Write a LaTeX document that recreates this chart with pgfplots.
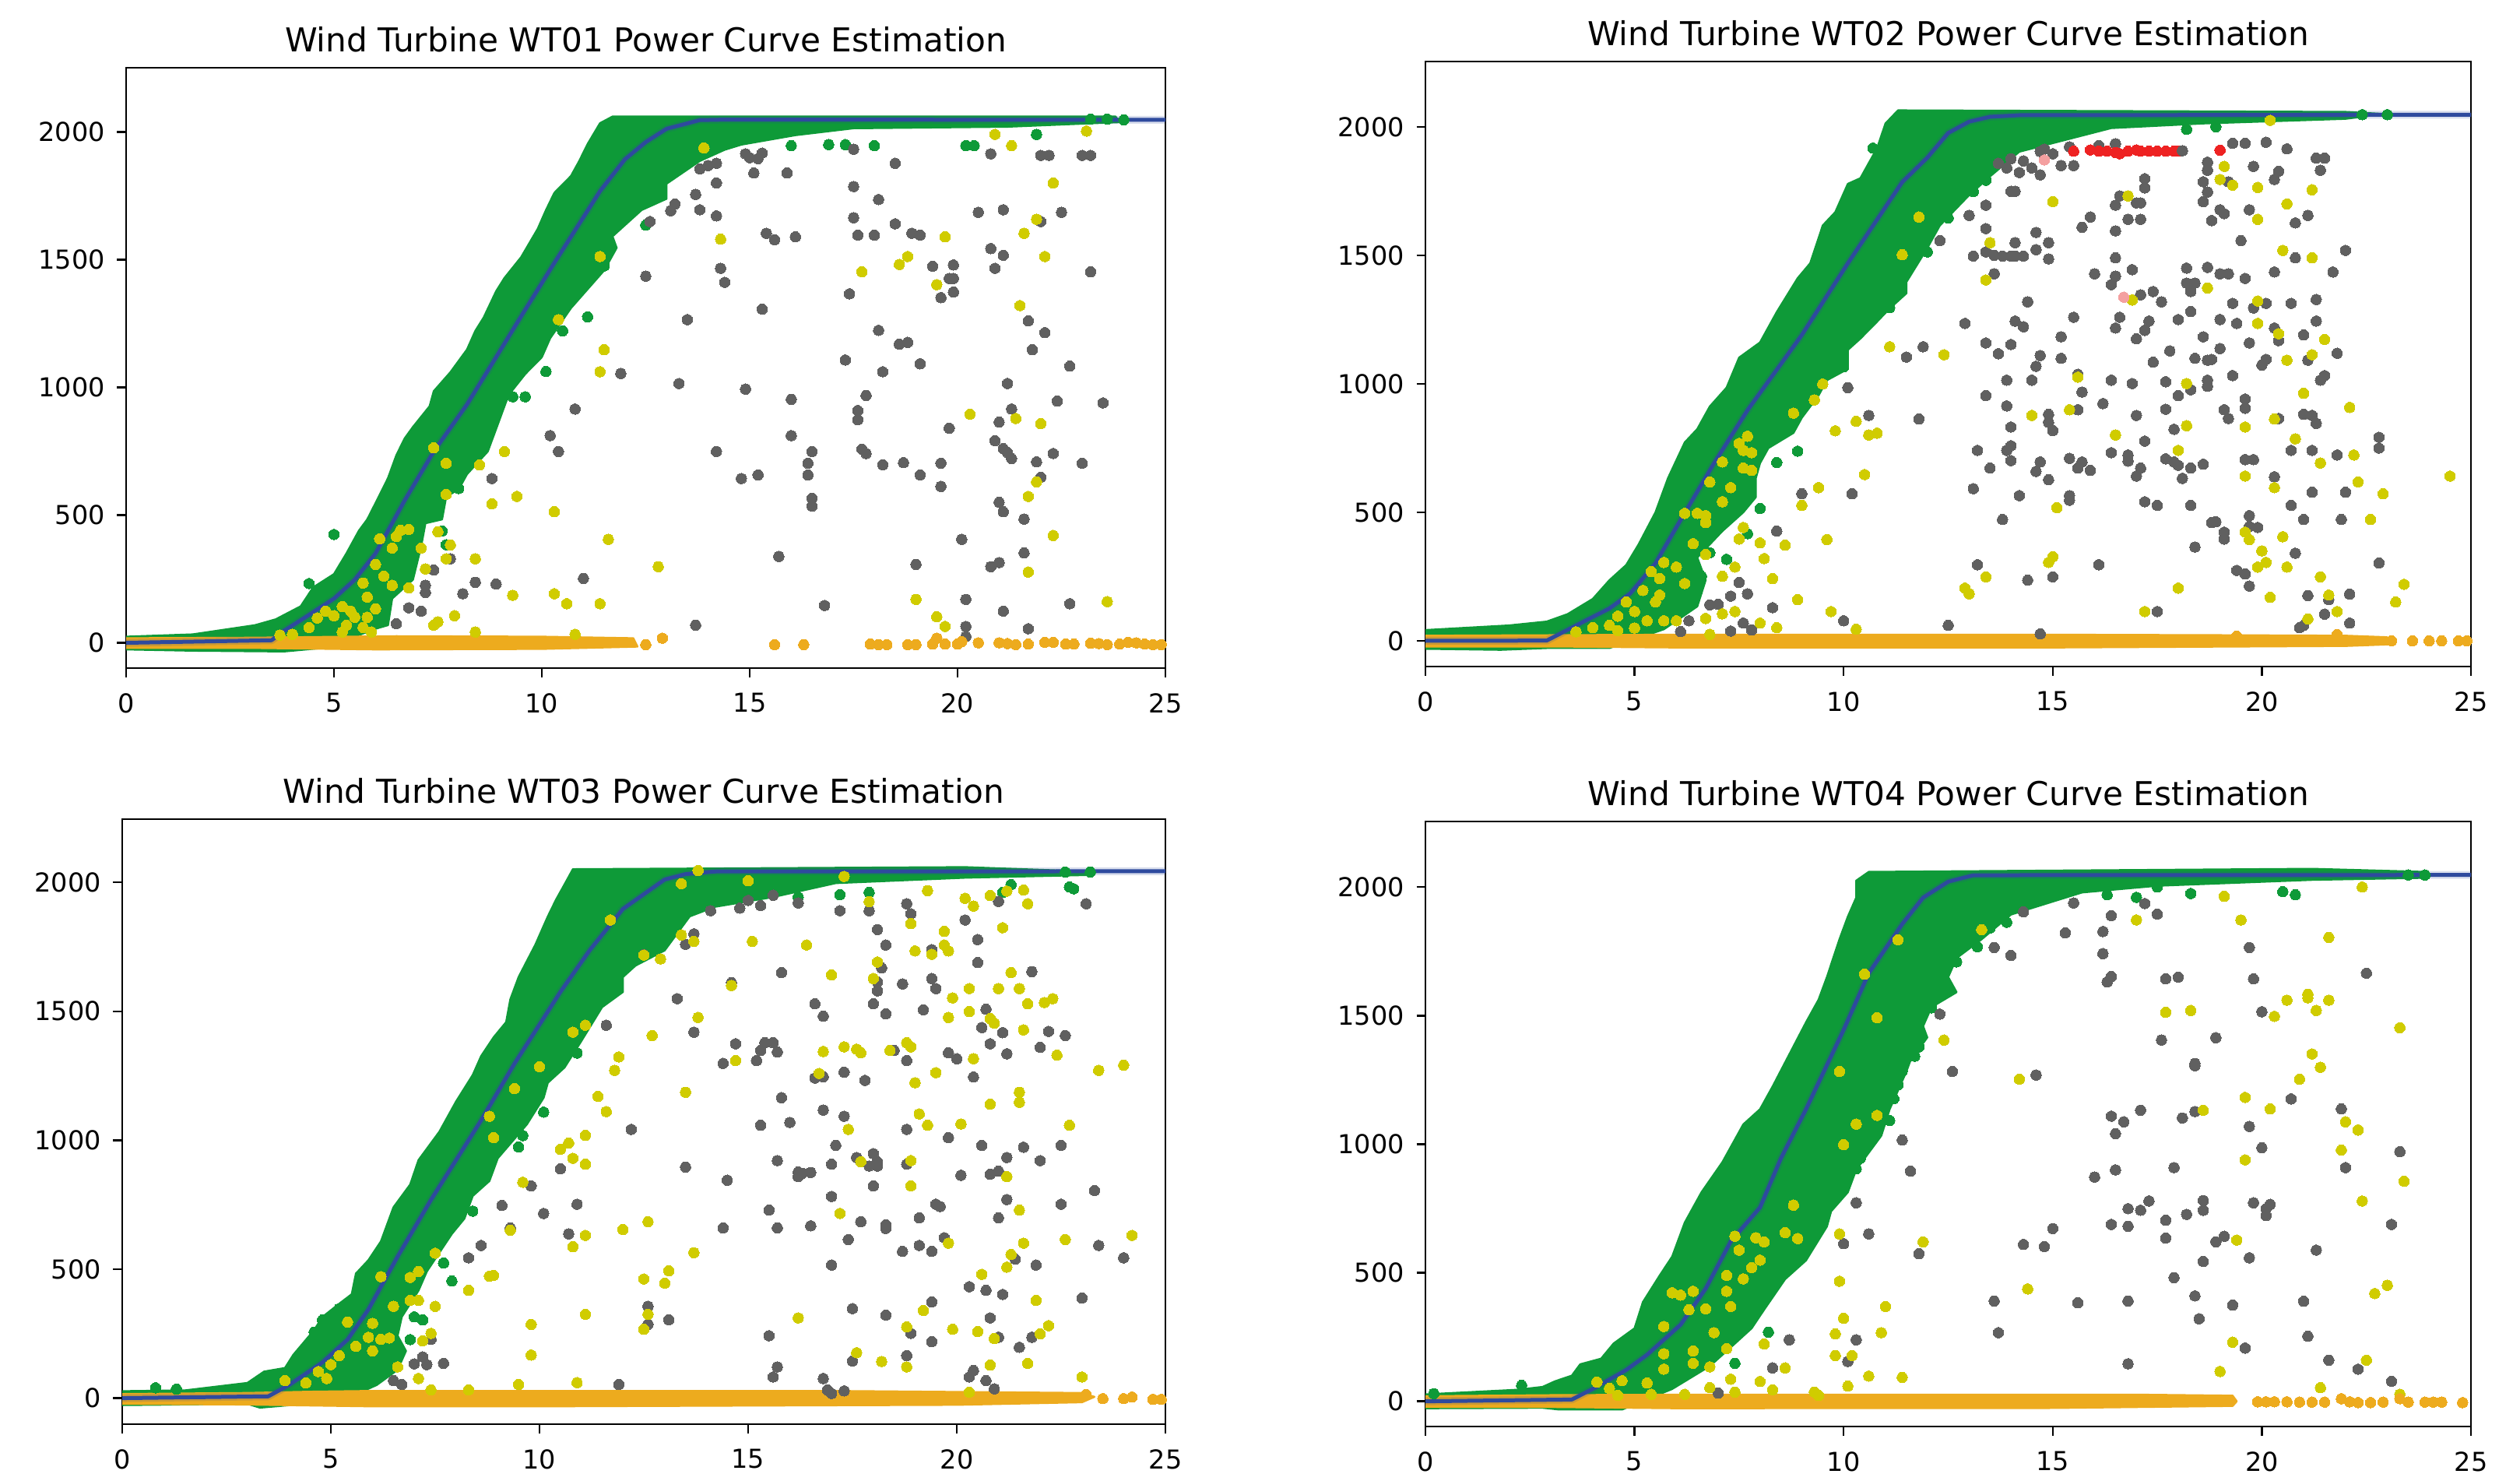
\documentclass[border=0pt]{standalone}
\usepackage{fontspec}
\setmainfont{DejaVu Sans}
\usepackage{pgfplots}
\pgfplotsset{compat=1.18}
\definecolor{cgreen}{HTML}{0E9A38}
\definecolor{cgrey}{HTML}{606060}
\definecolor{cyel}{HTML}{D0CC00}
\definecolor{corg}{HTML}{EDAB1E}
\definecolor{cblue}{HTML}{2E4A9E}
\definecolor{cred}{HTML}{EE2222}
\definecolor{cpink}{HTML}{F4A0A0}
\pgfplotsset{
  wt/.style={
    scale only axis, anchor=south west, xmin=0, xmax=25,
    xtick={0,5,10,15,20,25}, ytick={0,500,1000,1500,2000},
    xtick pos=lower, ytick pos=left, tick align=outside,
    major tick length=2.3pt,
    tick style={black,line width=0.5pt},
    axis line style={black,line width=0.55pt},
    tick label style={font=\fontsize{6.7}{8}\selectfont},
    /pgf/number format/assume math mode=true,
    /pgf/number format/set thousands separator={},
    xticklabel style={yshift=-0.6pt},
    yticklabel style={xshift=0.4pt},
    title style={font=\fontsize{8.45}{10}\selectfont,at={(0.5,1)},anchor=south,yshift=-5.6pt},
    clip=true,
  },
  pts/.style={only marks,color=#1,mark=*,mark size=1.35pt,mark options={solid,fill=#1,draw=#1,line width=0pt}},
  band/.style={draw=#1,line width=0.5pt,line join=round,fill=#1,mark=none},
  curve/.style={no marks,color=cblue,line width=1pt,line join=round},
  halo/.style={no marks,color=cblue,opacity=0.18,line width=2pt,line join=round},
}
\begin{document}
\begin{tikzpicture}[x=1pt,y=1pt]
\path[use as bounding box,fill=white] (0,0) rectangle (647.4,378.4);
% ---------------- WT01
\begin{axis}[wt,at={(32.4pt,206.8pt)},width=267pt,height=154.2pt,ymin=-99,ymax=2251,title={Wind Turbine WT01 Power Curve Estimation}]
\addplot[band=cgreen] coordinates {(0,24)(1.6,33)(3.1,69)(3.6,92)(4.2,143)(4.5,217)(5,269)(5.3,350)(5.6,439)(5.8,483)(6.1,579)(6.3,645)(6.5,734)(6.7,800)(6.9,845)(7.3,926)(7.4,985)(7.8,1059)(8.2,1148)(8.4,1221)(8.6,1273)(8.9,1376)(9.1,1428)(9.5,1509)(9.9,1620)(10.1,1694)(10.3,1761)(10.7,1827)(10.9,1886)(11.1,1952)(11.4,2034)(11.7,2060)(23.8,2060)(23.9,2038)(21.2,2020)(17.5,2014)(16.1,1987)(14.8,1950)(14.4,1930)(13.8,1886)(13,1797)(13,1738)(12.4,1694)(11.7,1591)(11.8,1546)(11.5,1458)(10.7,1310)(10.2,1192)(10,1118)(9.6,1052)(9.2,970)(8.9,837)(8.7,749)(8.2,660)(8,601)(7.7,572)(7.6,483)(7.2,468)(7.1,380)(6.9,247)(6.4,173)(6.3,69)(6,55)(4.8,-19)(3.8,-34)(1.6,-31)(0,-26)} -- cycle;
\addplot[pts=cgreen] coordinates {(5,424)(4.4,232)(11.1,1276)(10.5,1221)(10.1,1062)(9.6,963)(9.3,963)(8,604)(12.5,1635)(11.5,1475)(7.6,438)(7.7,384)(18,1946)(16.9,1950)(17.3,1950)(16,1946)(20.2,1946)(20.4,1946)(21.9,1990)(24,2047)(23.6,2050)(23.2,2050)};
\addplot[pts=cgrey] coordinates {(13.7,69)(20.2,24)(20.2,64)(20.2,170)(16.8,146)(15.7,338)(19,307)(20.1,405)(20.8,298)(21,314)(21.1,124)(21.7,55)(21.6,352)(22.7,153)(21.6,484)(21,550)(21.1,513)(22,648)(19.6,612)(19.1,657)(19.6,703)(18.7,705)(18.2,697)(17.7,758)(17.8,741)(16.5,535)(16.5,566)(16.4,657)(16.4,703)(16.5,749)(16,811)(15.2,657)(14.8,643)(14.2,749)(16,953)(14.9,993)(13.3,1015)(11.9,1054)(10.8,915)(10.2,811)(10.4,749)(8.8,643)(11,252)(8.9,230)(8.4,237)(8.1,192)(7.2,225)(7.2,197)(7.1,124)(6.8,137)(6.5,75)(7.8,329)(7.4,285)(17.6,909)(17.6,873)(17.8,968)(18.2,1061)(18.1,1223)(18.6,1169)(18.8,1176)(19.1,1092)(17.3,1107)(17.4,1366)(15.3,1306)(13.5,1265)(12.5,1435)(14.3,1466)(14.4,1411)(19.6,1351)(19.9,1373)(19.8,1426)(19.9,1426)(19.9,1479)(19.4,1474)(20.9,1466)(21.1,1517)(20.8,1543)(23.2,1452)(18.9,1603)(19.1,1596)(18.5,1640)(18,1596)(17.6,1596)(17.5,1664)(15.4,1603)(15.6,1578)(16.1,1589)(14.2,1671)(13.8,1695)(13.7,1755)(14.2,1800)(13.2,1717)(13.1,1691)(12.6,1649)(17.5,1786)(18.1,1735)(20.5,1685)(21.1,1695)(22,1649)(22.5,1685)(18.5,1877)(17.5,1932)(20.8,1914)(22,1908)(22.2,1908)(23,1908)(23.2,1908)(15.1,1839)(15.9,1839)(14.9,1914)(15,1899)(15.3,1917)(15.2,1895)(14.2,1877)(14,1868)(13.8,1855)(21.7,1260)(22.1,1214)(21.8,1147)(22.7,1083)(21.2,1015)(22.4,946)(21.3,915)(23.5,939)(21,864)(19.8,840)(20.9,791)(21.1,760)(21.2,745)(21.3,721)(21.9,708)(22.3,741)(23,703)};
\addplot[pts=cyel] coordinates {(13.9,1937)(20.9,1990)(21.3,1946)(23.1,2003)(22.3,1800)(14.3,1580)(11.4,1512)(19.7,1589)(18.8,1512)(18.6,1481)(17.7,1452)(19.5,1402)(21.6,1603)(21.9,1658)(22.1,1512)(21.5,1320)(10.4,1265)(11.5,1147)(11.4,1061)(20.3,895)(21.4,878)(22,858)(9.1,749)(7.7,703)(8.5,696)(7.4,763)(21.9,630)(7.7,581)(8.8,544)(9.4,573)(10.3,513)(21.7,573)(11.6,405)(22.3,420)(12.8,298)(8.4,329)(21.7,277)(9.3,186)(10.3,192)(10.6,153)(11.4,153)(19,170)(23.6,161)(19.5,102)(19.7,64)(7.9,106)(7.5,82)(7.4,69)(8.4,42)(10.8,33)(7.5,435)(7.8,383)(7.7,329)(7.2,289)(7.1,371)(6.8,444)(6.6,440)(6.5,416)(6.4,371)(6.1,407)(6.2,261)(5.7,234)(6.4,225)(6.8,215)(5.8,179)(6,307)(5.2,142)(4.8,124)(4.6,97)(5,106)(5.4,124)(6,133)(5.3,69)(5.7,60)(4.4,60)(4,33)(5.2,42)(5.9,42)(3.7,30)(5.5,100)(5.8,100)};
\addplot[band=corg] coordinates {(0,18)(3,20)(6.5,26)(10,24)(12.2,18)(12.3,-15)(10,-24)(6,-26)(3,-20)(0,-20)} -- cycle;
\addplot[pts=corg] coordinates {(12.5,-7)(12.9,18)(15.6,-7)(16.3,-7)(17.9,-5)(18.1,-7)(18.3,-7)(18.8,-7)(19,-7)(19.4,-5)(19.5,18)(19.7,-5)(20,-5)(20.1,5)(20.5,0)(21,0)(21.2,-3)(21.4,-7)(21.7,-5)(22.1,2)(22.3,2)(22.6,-5)(22.8,-5)(23.2,-2)(23.4,-3)(23.6,-7)(23.9,-5)(24.1,2)(24.3,0)(24.5,-5)(24.7,-7)(24.9,-7)};
\addplot[halo] coordinates {(0,0)(3.5,10)(3.8,47)(4.3,99)(5,173)(5.5,247)(6,350)(6.7,557)(7.4,749)(8.2,933)(8.9,1118)(9.4,1251)(10.3,1487)(11.4,1768)(12,1893)(12.5,1960)(13,2012)(13.8,2046)(14.4,2048)(25,2047)};
\addplot[curve] coordinates {(0,0)(3.5,10)(3.8,47)(4.3,99)(5,173)(5.5,247)(6,350)(6.7,557)(7.4,749)(8.2,933)(8.9,1118)(9.4,1251)(10.3,1487)(11.4,1768)(12,1893)(12.5,1960)(13,2012)(13.8,2046)(14.4,2048)(25,2047)};
\end{axis}
% ---------------- WT02
\begin{axis}[wt,at={(366.2pt,207.2pt)},width=268.6pt,height=155.4pt,ymin=-100,ymax=2254,title={Wind Turbine WT02 Power Curve Estimation}]
\addplot[band=cgreen] coordinates {(0,42)(2,60)(2.9,75)(3.4,104)(4,163)(4.4,236)(4.8,295)(5.1,376)(5.5,500)(5.8,633)(6.2,772)(6.5,824)(6.8,912)(7.2,985)(7.5,1102)(8,1161)(8.4,1279)(8.9,1411)(9.2,1469)(9.5,1616)(9.8,1668)(10.1,1778)(10.4,1800)(10.8,1917)(11,2013)(11.3,2064)(22,2058)(22.9,2050)(22,2031)(18.6,2013)(16.4,1995)(15.3,1949)(14.2,1903)(13.5,1807)(13,1734)(12.3,1616)(12,1528)(11.5,1396)(11.5,1352)(11.1,1293)(10.8,1242)(10.4,1176)(10.1,1132)(10.1,1058)(9.6,1014)(9.4,955)(9,868)(8.8,809)(8.2,750)(8,691)(7.9,633)(7.9,559)(7.6,500)(7.1,427)(6.5,324)(6.7,236)(6.5,134)(6.1,89)(5.7,45)(4.4,-28)(2.9,-28)(1.8,-35)(0,-31)} -- cycle;
\addplot[pts=cgreen] coordinates {(10,1120)(10,1066)(8.9,738)(8.4,694)(12.5,1645)(12,1513)(11.1,1296)(10.7,1917)(8,515)(7.7,417)(7.2,317)(6.8,343)(6.6,251)(6.5,192)(13.4,1792)(13.1,1748)(22.4,2047)(23,2047)(18.2,1990)(18.9,2000)};
\addplot[pts=cgrey] coordinates {(18.1,1907)(19.3,1936)(19.6,1936)(20.1,1940)(20.6,1914)(21.3,1878)(21.5,1878)(21.4,1831)(18.7,1862)(18.7,1831)(18.6,1786)(18.7,1746)(18.6,1709)(19.2,1786)(19.8,1846)(20.4,1827)(20.3,1795)(17.2,1798)(17.2,1762)(16.6,1731)(16.5,1695)(17,1704)(17.1,1704)(16.8,1640)(17.1,1640)(15.9,1649)(15.7,1609)(16.5,1595)(19,1677)(19.1,1662)(18.8,1635)(19.7,1677)(20.8,1626)(21.1,1655)(19.5,1557)(13.4,1695)(13,1655)(13.4,1604)(12.3,1557)(13.6,1428)(14,1749)(14.1,1749)(13.1,1497)(13.4,1513)(13.6,1500)(13.8,1497)(14,1497)(14.1,1549)(14.1,1497)(14.3,1497)(14.6,1522)(14.6,1589)(14.9,1549)(14.9,1486)(16.5,1490)(16,1428)(16.5,1419)(16.4,1386)(16.9,1444)(20.8,1490)(22,1519)(21.7,1435)(20.3,1435)(19.6,1410)(18.2,1450)(18.7,1453)(19,1428)(19.2,1428)(18.2,1392)(18.4,1392)(18.3,1359)(17.1,1346)(17.4,1359)(17.6,1319)(18.3,1281)(19.3,1313)(20.1,1313)(20.7,1313)(21.3,1328)(19.8,1295)(14.4,1319)(15.5,1259)(16.6,1259)(16.5,1217)(17.3,1244)(17.2,1208)(17,1175)(18,1250)(19,1250)(19.4,1235)(12.9,1235)(14.1,1244)(14.3,1222)(15.2,1183)(20.3,1217)(20.4,1168)(21,1190)(21.3,1244)(13.4,1159)(14,1153)(13.7,1117)(11.9,1144)(11.5,1104)(14.7,1110)(15.2,1099)(14.6,1068)(17.8,1128)(17.4,1084)(18.4,1099)(18.6,1183)(19,1137)(18.7,1092)(18.8,1095)(19.7,1159)(20.1,1095)(20,1073)(21.1,1092)(21.8,1119)(15.6,1037)(15.7,968)(13.9,1014)(14.5,1014)(16.4,1014)(16.9,1001)(17.7,1008)(18,954)(18.3,977)(18.7,1014)(18.7,990)(19.3,1032)(21.5,1032)(21.4,1014)(13.4,954)(13.9,914)(15.6,899)(16.2,923)(17.7,901)(17,877)(19.6,941)(19.6,905)(19.1,899)(19.2,865)(10.1,985)(10.6,877)(11.8,863)(14.9,881)(14.9,850)(15,818)(14,832)(20.4,865)(21,881)(21.2,877)(21.3,846)(17.9,823)(17.2,777)(14,759)(13.9,741)(13.2,741)(14,701)(13.5,672)(14.7,696)(14.6,659)(14.9,627)(15.4,710)(15.7,696)(15.6,672)(15.9,663)(16.4,732)(16.8,723)(16.8,699)(17.1,672)(17,641)(17.7,708)(17.9,696)(18,683)(18.1,632)(18.3,672)(18.6,687)(19.6,705)(19.8,705)(20.3,638)(20.7,741)(21.2,741)(21.8,723)(22.8,750)(22.8,792)(13.1,592)(14.2,565)(10.2,572)(9,572)(15.4,565)(15.4,547)(17.2,541)(17.5,527)(18.3,527)(21.2,578)(22,578)(20.7,527)(13.8,472)(21,472)(21.9,472)(18.8,460)(18.9,463)(19.7,487)(19.7,445)(19.9,441)(19.1,423)(19.1,396)(18.4,365)(8.4,427)(20.8,341)(13.2,296)(16.1,296)(22.8,303)(14.4,236)(15,249)(19.4,274)(19.6,260)(19.7,213)(7.5,227)(7.3,174)(7.7,183)(6.8,140)(7,142)(8.3,129)(21.1,176)(22.1,182)(21.6,160)(17.5,114)(10,78)(12.5,60)(14.7,27)(6.1,36)(6.3,78)(7.3,38)(7.6,69)(7.8,42)(21.5,104)(21,60)(20.9,51)(22.1,69)(13.9,1840)(14,1876)(14.3,1867)(14.5,1840)(14.7,1813)(14.2,1822)(14.7,1904)(14.8,1913)(15,1895)(15.4,1922)(15.2,1849)(15.5,1849)(16.5,1934)(16.1,1927)(13.7,1858)};
\addplot[pts=cyel] coordinates {(20.2,2025)(19.1,1846)(19,1795)(19.3,1773)(19.9,1764)(21.2,1755)(20.6,1700)(19.9,1640)(15,1709)(16.8,1731)(11.8,1649)(11.4,1502)(13.5,1549)(13.4,1404)(20.5,1519)(21.2,1490)(18.7,1373)(16.9,1326)(19.9,1322)(19.9,1235)(20.4,1195)(21.5,1173)(20.6,1092)(21.2,1113)(21,963)(22.1,908)(18.2,1001)(15.6,1026)(15.4,899)(14.5,877)(11.1,1144)(12.4,1113)(9.5,999)(9.3,937)(8.8,886)(9.8,817)(10.3,854)(10.6,801)(10.8,808)(18.2,837)(19.6,832)(20.3,863)(16.5,801)(20.8,786)(18,741)(22.2,723)(21.4,692)(10.5,647)(19.6,641)(22.3,618)(24.5,641)(20.3,596)(22.9,572)(9.4,596)(9,527)(15.1,518)(22.6,472)(19.6,423)(19.7,394)(20.5,405)(9.6,394)(8.6,372)(8,381)(7.5,396)(8.1,320)(7.6,441)(20,350)(20.1,305)(19.9,287)(20.6,287)(15,327)(14.9,305)(13.4,249)(8.3,242)(7.1,251)(7.4,287)(21.4,249)(12.9,205)(13,183)(18,205)(23.4,220)(8.9,160)(20.2,169)(21.6,178)(23.2,151)(9.7,114)(17.2,114)(21.8,114)(7.4,114)(6.7,87)(7.1,105)(8,69)(10.3,45)(21.1,85)(8.4,51)(7.7,796)(7.5,768)(7.6,741)(7.8,732)(7.1,696)(7.6,672)(7.8,663)(6.8,618)(7.3,596)(7.1,541)(6.5,496)(6.7,487)(6.2,496)(6.7,460)(6.4,378)(6.7,336)(5.7,305)(6,287)(5.4,269)(5.6,242)(5.2,196)(5.5,151)(6.2,223)(5.6,178)(5,114)(4.8,151)(5.3,78)(5.7,78)(6,78)(4.6,96)(4.4,60)(4,51)(6.8,25)(3.6,35)(4.6,40)(5,50)};
\addplot[pts=cred] coordinates {(15.5,1905)(15.9,1910)(16.1,1905)(16.3,1905)(16.5,1900)(16.6,1895)(16.8,1905)(17,1910)(17.1,1905)(17.3,1905)(17.5,1905)(17.7,1905)(17.9,1905)(18,1905)(19,1909)};
\addplot[pts=cpink] coordinates {(16.7,1337)(14.8,1871)};
\addplot[pts=cgrey] coordinates {(18.1,1907)};
\addplot[band=corg] coordinates {(0,20)(3,22)(6,24)(15,24)(19,22)(22,20)(23,14)(23,-14)(22,-20)(15,-26)(6,-26)(3,-22)(0,-22)} -- cycle;
\addplot[pts=corg] coordinates {(19.4,18)(21.8,24)(23.1,0)(23.6,0)(24,0)(24.3,0)(24.7,0)(24.9,0)};
\addplot[halo] coordinates {(0,0)(2.9,1)(3.7,68)(4.4,126)(4.9,185)(5.5,302)(6,442)(6.9,691)(7.7,897)(9,1190)(10.1,1469)(11.4,1785)(12,1880)(12.5,1976)(13,2020)(13.5,2039)(14.2,2045)(25,2047)};
\addplot[curve] coordinates {(0,0)(2.9,1)(3.7,68)(4.4,126)(4.9,185)(5.5,302)(6,442)(6.9,691)(7.7,897)(9,1190)(10.1,1469)(11.4,1785)(12,1880)(12.5,1976)(13,2020)(13.5,2039)(14.2,2045)(25,2047)};
\end{axis}
% ---------------- WT03
\begin{axis}[wt,at={(31.4pt,12.6pt)},width=268pt,height=155.4pt,ymin=-101,ymax=2245,title={Wind Turbine WT03 Power Curve Estimation}]
\addplot[band=cgreen] coordinates {(0,27)(1.5,30)(3,59)(3.4,103)(3.9,117)(4.1,168)(4.6,264)(4.8,315)(5.2,366)(5.5,403)(5.6,483)(5.9,535)(6.2,608)(6.5,740)(6.9,828)(7.1,923)(7.6,1033)(8,1150)(8.4,1253)(8.6,1326)(8.9,1399)(9.2,1458)(9.3,1546)(9.5,1633)(9.9,1758)(10.2,1868)(10.4,1934)(10.6,1992)(10.8,2051)(20.2,2059)(23.3,2041)(23.3,2029)(20.2,2018)(17.1,1997)(15.6,1943)(14.2,1905)(13.6,1868)(13,1736)(12.3,1677)(12,1633)(12,1575)(11.5,1516)(11,1384)(10.6,1282)(10.2,1223)(10.1,1165)(9.7,1062)(9,930)(8.8,842)(8.4,784)(8.2,696)(7.9,637)(7.6,564)(7.3,491)(7.1,417)(6.7,315)(6.6,242)(6.8,183)(6.6,110)(6.1,51)(5.7,22)(4.4,-22)(3.3,-37)(3,-22)(0,-27)} -- cycle;
\addplot[pts=cgreen] coordinates {(10.9,1338)(10.1,1109)(9.6,1018)(9.5,974)(8.4,725)(7.7,524)(7.9,454)(7.2,303)(7,315)(6.9,227)(4.6,256)(4.8,303)(5.2,347)(22.7,1982)(22.8,1975)(21.3,1991)(21.1,1961)(17.2,1952)(17.9,1961)(16.2,1943)(0.8,40)(1.3,35)(3.4,80)(23.2,2040)(22.6,2040)};
\addplot[pts=cgrey] coordinates {(23.1,1917)(21,1926)(18.8,1917)(18.9,1878)(20.2,1854)(18.1,1817)(18.3,1757)(20.5,1778)(19.4,1739)(20.5,1689)(18.2,1668)(21.8,1654)(15.8,1650)(14.6,1611)(18.1,1614)(18.1,1579)(18.7,1606)(19.4,1627)(19.5,1588)(13.3,1549)(18,1529)(16.6,1529)(16.8,1481)(18.3,1490)(19.2,1506)(20.7,1508)(20.6,1437)(20.8,1374)(21.1,1417)(22.2,1422)(22.6,1406)(22,1360)(21.2,1335)(13.7,1419)(11.6,1446)(14.7,1374)(15.4,1378)(15.3,1348)(15.2,1309)(15.6,1378)(15.7,1342)(14.4,1298)(18.5,1348)(18.8,1309)(19.8,1339)(20,1316)(20.4,1245)(16.6,1241)(16.8,1246)(17.3,1264)(17.8,1232)(15.8,1165)(16.8,1117)(17.3,1093)(15.3,1058)(16,1069)(12.2,1042)(18.8,1042)(19.8,1010)(17.1,980)(20.6,980)(21.6,973)(22.5,980)(18,948)(17.6,933)(21.2,933)(22,921)(15.7,921)(17,907)(17.9,900)(18.1,900)(18.1,916)(18.8,907)(13.5,896)(10.5,889)(14.5,845)(16.2,877)(16.3,872)(16.5,875)(16.2,859)(20.1,864)(20.8,868)(21,880)(9.8,823)(18,823)(23.3,805)(9.1,747)(10.9,752)(10.1,716)(17,782)(15.5,729)(17.2,716)(21.2,770)(19.5,752)(19.6,743)(22.5,752)(19.1,699)(21,699)(17.7,684)(18.3,672)(18.3,658)(9.3,660)(14.4,660)(15.7,660)(16.5,668)(10.7,637)(17.4,615)(19.7,622)(8.6,592)(8.3,544)(19.1,592)(18.7,569)(19.4,569)(23.4,592)(24,544)(21.4,539)(17,516)(21.9,516)(20.3,432)(20.7,418)(21.1,402)(23,388)(17.5,347)(18.3,322)(12.6,356)(19.4,373)(13.1,304)(12.6,286)(20.8,311)(15.5,242)(18.9,251)(21,236)(19.4,219)(21.8,236)(21.5,197)(7.4,228)(7.2,160)(7,133)(7.3,130)(7.7,135)(18.8,165)(17.5,144)(15.7,121)(15.6,82)(11.9,53)(16.8,76)(16.9,32)(17,18)(17.3,28)(20.4,107)(20.3,82)(20.7,68)(20.9,36)(6.5,68)(6.7,53)(14.1,1890)(14.8,1900)(15,1930)(15.3,1910)(15.6,1950)(16.2,1920)(17.2,1890)(17.9,1890)(13.7,1800)(13.5,1760)(12.5,1720)};
\addplot[pts=cyel] coordinates {(17.3,2023)(13.4,1995)(15,2006)(13.8,2046)(19.3,1968)(20.2,1938)(20.4,1908)(20.8,1949)(21.2,1966)(21.6,1970)(21.7,1917)(17.9,1925)(18.9,1840)(21.1,1824)(19.7,1810)(19.7,1757)(19.8,1734)(19,1734)(19.4,1721)(11.7,1854)(13.4,1796)(13.7,1771)(15.1,1771)(16.4,1757)(12.5,1718)(12.9,1703)(18.1,1691)(17,1641)(18,1627)(21.3,1650)(14.6,1600)(20.3,1588)(21,1588)(21.5,1588)(19.9,1552)(20.3,1499)(19.8,1476)(22.3,1549)(22.1,1534)(21.7,1529)(20.8,1472)(20.9,1454)(13.8,1476)(21.6,1428)(12.7,1406)(11.1,1446)(10.8,1419)(17.3,1362)(17.6,1353)(17.7,1339)(16.8,1344)(18.8,1378)(18.9,1362)(18.4,1348)(14.7,1309)(20.4,1316)(22.4,1330)(11.9,1323)(11.8,1271)(10,1285)(19.5,1262)(23.4,1271)(24,1291)(16.7,1259)(19,1223)(9.4,1200)(11.4,1170)(13.5,1186)(21.5,1186)(21.5,1147)(20.8,1140)(11.6,1111)(19.1,1102)(8.8,1093)(20.1,1063)(19.3,1058)(22.7,1058)(17.4,1042)(8.9,1010)(11.1,1019)(10.7,989)(10.5,965)(10.8,930)(11.1,907)(17.7,917)(18.9,921)(9.6,837)(18.9,823)(21.2,859)(21.5,729)(17.2,716)(12.6,684)(12,654)(11.1,631)(10.8,587)(22.6,615)(21.6,601)(24.2,631)(19.8,601)(9.3,651)(13.7,564)(21.3,557)(21.2,508)(7.5,562)(7.1,491)(6.9,468)(6.2,471)(8.8,473)(8.9,476)(13.1,494)(12.5,462)(13,446)(8.3,418)(20.6,480)(6.9,379)(7.1,379)(6.5,356)(7.5,356)(21.9,379)(19.2,340)(11.1,325)(12.6,325)(16.2,311)(5.4,295)(6,290)(9.8,286)(18.8,276)(19.9,267)(20.5,258)(22.2,281)(22,249)(12.5,267)(7.4,251)(7.2,222)(6.4,233)(20.9,231)(5.9,236)(6.2,228)(6,183)(5.6,201)(5.2,165)(9.8,167)(17.6,176)(18.2,142)(18.8,121)(20.8,128)(21.7,135)(6.6,121)(7.1,76)(9.5,53)(10.9,60)(23,82)(7.4,32)(8.3,32)(20.3,23)(5,130)(4.7,103)(4.4,59)(4.9,76)(3.9,68)};
\addplot[band=corg] coordinates {(0,16)(3,20)(4.5,25)(6,28)(17,28)(20,24)(23,20)(23.3,5)(23,-16)(20,-26)(10,-32)(6,-32)(3,-25)(0,-22)} -- cycle;
\addplot[pts=corg] coordinates {(23.1,14)(23.5,-2)(24,-2)(24.2,4)(24.7,-5)(24.9,-5)};
\addplot[halo] coordinates {(0,0)(3.5,7)(4,51)(4.8,139)(5.4,227)(5.9,344)(6.6,549)(7.4,769)(8.6,1077)(9.4,1297)(10.5,1575)(11.2,1736)(12,1897)(13,2011)(13.5,2032)(14.2,2042)(25,2043)};
\addplot[curve] coordinates {(0,0)(3.5,7)(4,51)(4.8,139)(5.4,227)(5.9,344)(6.6,549)(7.4,769)(8.6,1077)(9.4,1297)(10.5,1575)(11.2,1736)(12,1897)(13,2011)(13.5,2032)(14.2,2042)(25,2043)};
\end{axis}
% ---------------- WT04
\begin{axis}[wt,at={(366.2pt,12pt)},width=268.6pt,height=155.4pt,ymin=-98,ymax=2255,title={Wind Turbine WT04 Power Curve Estimation}]
\addplot[band=cgreen] coordinates {(0,27)(2.2,45)(2.8,56)(3.1,78)(3.5,100)(3.7,144)(4.2,166)(4.5,225)(5,284)(5.2,386)(5.6,489)(5.9,563)(6.2,695)(6.6,813)(7.1,930)(7.6,1077)(8,1136)(8.3,1224)(8.7,1349)(9.1,1474)(9.4,1562)(9.6,1650)(9.9,1797)(10.1,1885)(10.3,1959)(10.3,2025)(10.6,2059)(21.2,2071)(23.9,2059)(23.9,2036)(21.2,2028)(17.5,2005)(15.7,1979)(14,1893)(13.3,1797)(12.7,1724)(12.5,1650)(12.7,1591)(12.1,1533)(11.9,1459)(12,1415)(11.6,1327)(11.5,1283)(11.3,1209)(11.1,1136)(10.9,1033)(10.3,901)(10.1,813)(9.7,739)(9.6,680)(9.1,548)(8.6,475)(8.1,357)(7.8,284)(7.3,210)(6.8,137)(5.9,48)(4.7,-32)(3.2,-32)(2.8,-25)(0,-27)} -- cycle;
\addplot[pts=cgreen] coordinates {(10.3,904)(10.4,945)(11.1,1092)(11.2,1177)(11.3,1231)(11.4,1283)(11.7,1342)(11.8,1378)(12.1,1530)(12.7,1709)(8.2,269)(7.4,148)(13.5,1841)(13.9,1863)(13.2,1768)(20.5,1982)(20.8,1970)(18.3,1975)(17.5,2000)(2.3,62)(0.2,30)(23.5,2047)(23.9,2047)(16.3,1970)(17,1960)};
\addplot[pts=cgrey] coordinates {(15.5,1938)(14.3,1904)(17.2,1936)(16.4,1889)(17.5,1895)(15.3,1822)(16.2,1827)(13.6,1765)(14,1734)(16.2,1741)(19.7,1765)(16.4,1652)(16.3,1631)(17.7,1643)(18,1650)(19.8,1643)(22.5,1665)(12.3,1506)(20,1515)(17.6,1405)(18.9,1414)(18.4,1314)(18.4,1305)(12.6,1283)(14.6,1269)(20.7,1176)(18.4,1127)(18.1,1102)(17.1,1132)(16.4,1109)(16.7,1087)(16.5,1041)(21.9,1137)(19.7,1069)(11.4,1016)(20,986)(23.3,971)(11.6,895)(16,872)(16.5,900)(17.9,909)(22,909)(10.3,772)(17.3,779)(16.8,749)(17.1,743)(18.6,781)(18.6,743)(18.2,727)(17.7,704)(19.8,772)(20.2,766)(20.1,749)(20.1,722)(15,672)(16.4,688)(16.8,681)(23.1,688)(10.6,651)(10,613)(17.7,635)(18.9,620)(19.1,642)(14.3,610)(14.8,602)(11.8,574)(21.3,588)(18.6,544)(19.7,558)(17.9,481)(18.4,410)(21,389)(13.6,390)(16.8,390)(15.6,383)(19.3,374)(18.5,321)(13.7,267)(21.1,253)(8.7,239)(10.3,239)(19.6,207)(21.6,160)(16.8,146)(10.1,155)(8.3,130)(22.3,125)(23.1,78)(7,32)};
\addplot[pts=cyel] coordinates {(22.4,2000)(19.1,1964)(19.5,1872)(17,1872)(13.3,1834)(11.3,1795)(21.6,1804)(10.5,1661)(20.6,1560)(21.1,1583)(21.1,1569)(21.3,1520)(21.6,1560)(20.3,1497)(17.7,1513)(18.3,1520)(10.8,1492)(23.3,1453)(12.4,1405)(21.2,1351)(21.4,1299)(20.9,1253)(9.9,1283)(14.2,1253)(19.6,1182)(20.2,1137)(18.6,1132)(10.8,1112)(10.3,1078)(22,1087)(22.3,1055)(10,998)(21.9,977)(19.6,939)(23.4,856)(8.8,763)(22.4,779)(9.9,651)(8.6,656)(8.9,633)(7.4,642)(7.9,636)(8.1,620)(11.9,620)(19.4,627)(7.5,588)(8,549)(7.8,520)(7.6,476)(7.2,490)(7.2,428)(9.9,467)(5.9,422)(6.1,413)(6.4,428)(14.4,437)(23,451)(22.7,419)(7.3,369)(6.7,360)(6.3,356)(11,369)(10,323)(6.9,267)(5.7,291)(10.9,267)(9.8,262)(19.3,230)(8.1,223)(7.2,205)(6.4,196)(5.7,185)(9.8,178)(10.2,178)(5.7,125)(6.4,148)(6.8,134)(8.6,130)(22.5,160)(10.6,98)(11.4,93)(4.1,75)(4.7,80)(8,77)(7.3,86)(10.1,59)(19,116)(21.4,53)(6.8,53)(4.4,50)(5.3,71)(5.4,27)(6.2,27)(7.4,36)(8.3,45)(9.3,36)(9.4,23)(4.6,23)(23.3,27)};
\addplot[band=corg] coordinates {(0,20)(3,24)(6,26)(17,26)(19.3,22)(19.4,0)(19.3,-18)(15,-26)(6,-27)(3,-22)(0,-22)} -- cycle;
\addplot[pts=corg] coordinates {(19.9,-2)(20.1,-2)(20.3,-2)(20.6,-2)(20.9,-3)(21.2,-3)(21.5,-3)(21.9,10)(22.1,-2)(22.3,-5)(22.6,-5)(22.9,-3)(23.3,10)(23.5,-3)(23.9,-3)(24.1,-3)(24.3,-3)(24.8,-5)};
\addplot[halo] coordinates {(0,0)(3.5,7)(4,48)(4.8,122)(5.3,181)(6.1,298)(6.7,438)(7.3,622)(8,754)(8.5,945)(9.1,1136)(10,1445)(10.6,1665)(11.4,1856)(11.9,1959)(12.5,2021)(13.1,2046)(25,2047)};
\addplot[curve] coordinates {(0,0)(3.5,7)(4,48)(4.8,122)(5.3,181)(6.1,298)(6.7,438)(7.3,622)(8,754)(8.5,945)(9.1,1136)(10,1445)(10.6,1665)(11.4,1856)(11.9,1959)(12.5,2021)(13.1,2046)(25,2047)};
\end{axis}
\end{tikzpicture}
\end{document}
